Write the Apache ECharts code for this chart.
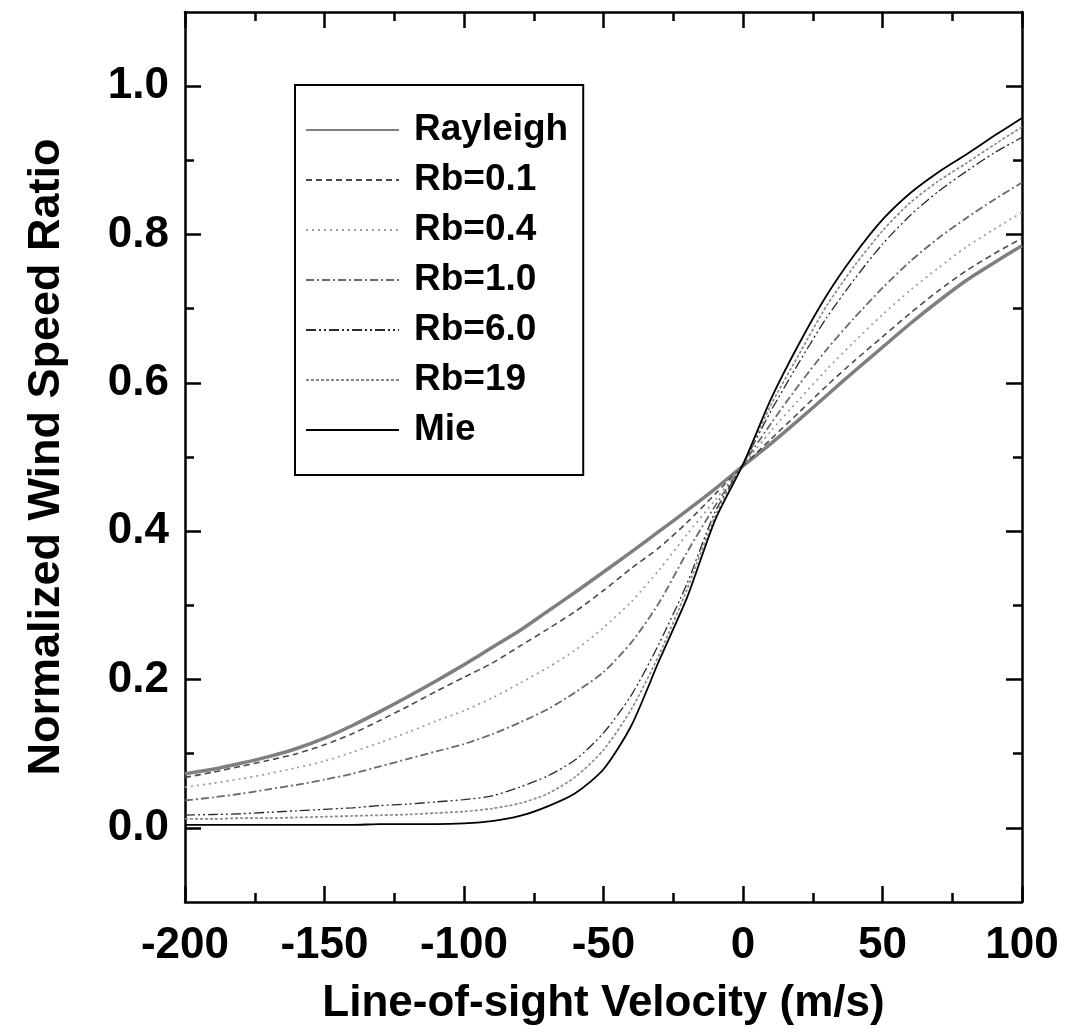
<!DOCTYPE html>
<html>
<head>
<meta charset="utf-8">
<script src="https://cdn.jsdelivr.net/npm/echarts@6/dist/echarts.min.js"></script>
<style>
html,body{margin:0;padding:0;background:#fff;}
#chart{width:1066px;height:1032px;}
</style>
</head>
<body>
<div id="chart"></div>
<script>
// Line-of-sight velocity (m/s)
const velocity = [-200,-190,-180,-170,-160,-150,-140,-130,-120,-110,-100,-90,-80,-70,-60,-50,-40,-30,-20,-10,0,10,20,30,40,50,60,70,80,90,100];
const seriesNames = ['Rayleigh','Rb=0.1','Rb=0.4','Rb=1.0','Rb=6.0','Rb=19','Mie'];
const rayleigh = [0.073,0.079,0.087,0.096,0.107,0.121,0.138,0.157,0.177,0.198,0.220,0.243,0.266,0.292,0.318,0.345,0.372,0.400,0.428,0.457,0.488,0.518,0.550,0.583,0.616,0.648,0.680,0.710,0.738,0.762,0.785];
const rb01 = [0.068,0.075,0.083,0.091,0.100,0.112,0.127,0.145,0.164,0.184,0.203,0.222,0.245,0.268,0.292,0.320,0.350,0.378,0.412,0.450,0.488,0.524,0.560,0.596,0.630,0.662,0.694,0.724,0.751,0.774,0.795];
const rb04 = [0.055,0.060,0.066,0.073,0.081,0.090,0.102,0.115,0.129,0.144,0.158,0.175,0.195,0.216,0.240,0.270,0.305,0.348,0.396,0.442,0.489,0.535,0.577,0.618,0.656,0.692,0.725,0.755,0.783,0.807,0.830];
const rb10 = [0.037,0.041,0.046,0.052,0.058,0.065,0.073,0.083,0.093,0.103,0.113,0.126,0.142,0.160,0.183,0.210,0.250,0.304,0.372,0.434,0.490,0.545,0.597,0.645,0.688,0.728,0.764,0.795,0.822,0.847,0.870];
const rb60 = [0.017,0.018,0.019,0.021,0.023,0.025,0.027,0.030,0.032,0.035,0.038,0.043,0.055,0.070,0.092,0.128,0.179,0.249,0.330,0.426,0.490,0.562,0.627,0.688,0.740,0.787,0.826,0.858,0.885,0.910,0.931];
const rb19 = [0.012,0.012,0.013,0.013,0.014,0.015,0.016,0.017,0.018,0.020,0.022,0.026,0.033,0.046,0.069,0.105,0.160,0.234,0.322,0.420,0.490,0.570,0.638,0.704,0.758,0.805,0.843,0.872,0.896,0.921,0.945];
const mie = [0.004,0.004,0.004,0.004,0.004,0.004,0.004,0.005,0.005,0.005,0.006,0.009,0.016,0.029,0.047,0.079,0.138,0.226,0.311,0.415,0.490,0.578,0.652,0.718,0.773,0.820,0.856,0.884,0.908,0.933,0.957];
const yMajorTicks = [0.0,0.2,0.4,0.6,0.8,1.0];
const yMinorTicks = [0.1,0.3,0.5,0.7,0.9];

const allValues = [rayleigh, rb01, rb04, rb10, rb60, rb19, mie];
const styles = [
  {color:'#7f7f7f', width:3.5, type:'solid'},
  {color:'#4a4a4a', width:1.6, type:[6,4]},
  {color:'#9a9a9a', width:1.7, type:[2,4]},
  {color:'#6a6a6a', width:1.8, type:[8,3,2,3]},
  {color:'#2a2a2a', width:1.3, type:[10,3,2,3,2,3]},
  {color:'#8a8a8a', width:1.7, type:[3,2]},
  {color:'#000000', width:1.8, type:'solid'}
];

const FONT = '"Liberation Sans", Arial, sans-serif';

const series = seriesNames.map((name, i) => ({
  name: name,
  type: 'line',
  xAxisIndex: 0,
  yAxisIndex: 0,
  showSymbol: false,
  symbol: 'none',
  smooth: 0.25,
  color: styles[i].color,
  lineStyle: {color: styles[i].color, width: styles[i].width, type: styles[i].type},
  data: velocity.map((v, k) => [v, allValues[i][k]]),
  z: 2 + i
}));

function yAxisDef(pos, ticks, len, showLabel, showLine){
  return {
    type:'value', position: pos, min:-0.1, max:1.1,
    splitLine:{show:false},
    axisLine:{show:showLine, onZero:false, lineStyle:{color:'#000', width:2.5}},
    axisTick:{show:true, inside:true, length:len, customValues:ticks, lineStyle:{color:'#000', width:2.5}},
    axisLabel:{show:showLabel, customValues:ticks, margin:16, color:'#000',
      fontFamily:FONT, fontWeight:'bold', fontSize:44,
      formatter: v => v.toFixed(1)},
    name: showLabel ? 'Normalized Wind Speed Ratio' : '',
    nameLocation:'middle', nameGap:116, nameRotate:90,
    nameTextStyle:{color:'#000', fontFamily:FONT, fontWeight:'bold', fontSize:45}
  };
}

const chart = echarts.init(document.getElementById('chart'), null, {renderer:'canvas'});
chart.setOption({
  backgroundColor:'#fff',
  animation:false,
  grid:{left:185, right:44, top:12, bottom:130, outerBoundsMode:'none', containLabel:false},
  legend:{
    orient:'vertical', left:295, top:85,
    data: seriesNames,
    itemWidth:93, itemHeight:14, itemGap:10,
    itemStyle:{opacity:0},
    borderColor:'#000', borderWidth:2, borderRadius:0,
    padding:[25,15,25,10],
    backgroundColor:'#fff',
    textStyle:{color:'#000', fontFamily:FONT, fontWeight:'bold', fontSize:37, lineHeight:40, padding:[0,0,0,10]}
  },
  xAxis:[
    {type:'value', position:'bottom', min:-200, max:100, interval:50,
      splitLine:{show:false},
      axisLine:{onZero:false, lineStyle:{color:'#000', width:2.5}},
      axisTick:{inside:true, length:16, lineStyle:{color:'#000', width:2.5}},
      minorTick:{show:true, splitNumber:2, length:9, lineStyle:{color:'#000', width:2.5}},
      minorSplitLine:{show:false},
      axisLabel:{margin:22, color:'#000', fontFamily:FONT, fontWeight:'bold', fontSize:44},
      name:'Line-of-sight Velocity (m/s)', nameLocation:'middle', nameGap:80,
      nameTextStyle:{color:'#000', fontFamily:FONT, fontWeight:'bold', fontSize:44}
    },
    {type:'value', position:'top', min:-200, max:100, interval:50,
      splitLine:{show:false},
      axisLine:{onZero:false, lineStyle:{color:'#000', width:2.5}},
      axisTick:{inside:true, length:16, lineStyle:{color:'#000', width:2.5}},
      minorTick:{show:true, splitNumber:2, length:9, lineStyle:{color:'#000', width:2.5}},
      axisLabel:{show:false}
    }
  ],
  yAxis:[
    yAxisDef('left', yMajorTicks, 16, true, true),
    yAxisDef('left', yMinorTicks, 9, false, false),
    yAxisDef('right', yMajorTicks, 16, false, true),
    yAxisDef('right', yMinorTicks, 9, false, false)
  ],
  series: series
});
</script>
</body>
</html>
